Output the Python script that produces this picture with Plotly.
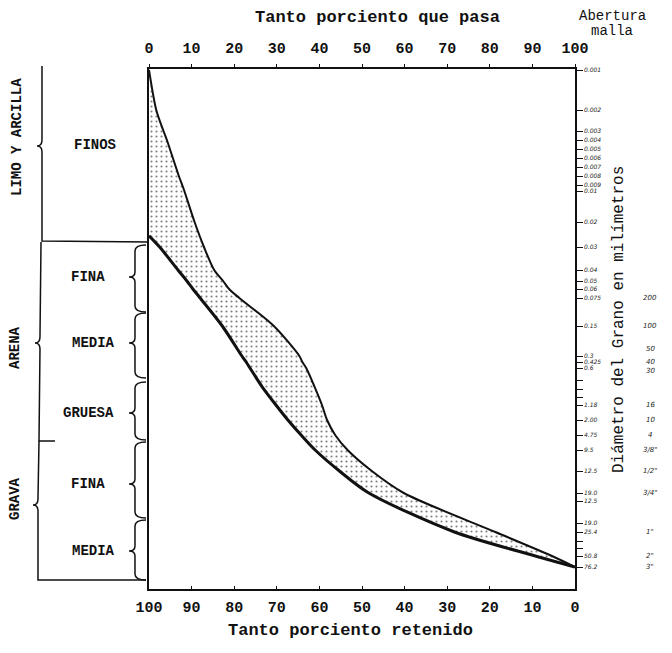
import numpy as np
import plotly.graph_objects as go

# ---------------- data ----------------
# Irregular (hand-drawn) grain-size scale of the original chart: mm -> axis position
SCALE_MM = [0.001, 0.002, 0.003, 0.004, 0.005, 0.006, 0.007, 0.008, 0.009, 0.01,
            0.02, 0.03, 0.04, 0.05, 0.06, 0.075, 0.15, 0.3, 0.425, 0.6,
            1.18, 2.0, 4.75, 9.5, 12.5, 19.0, 25.4, 50.8, 76.2]
SCALE_POS = [1, 41, 62, 71, 80, 89, 98, 107, 116, 122,
             153, 178, 201, 212, 220, 229, 257, 287, 293, 299,
             336, 351, 366, 381, 402, 424, 463, 487, 498]
SCALE_TEXT = ["0.001", "0.002", "0.003", "0.004", "0.005", "0.006", "0.007", "0.008", "0.009", "0.01",
              "0.02", "0.03", "0.04", "0.05", "0.06", "0.075", "0.15", "0.3", "0.425", "0.6",
              "1.18", "2.00", "4.75", "9.5", "12.5", "19.0", "25.4", "50.8", "76.2"]
EXTRA_TICK_POS = [432, 454]
EXTRA_TICK_TEXT = ["12.5", "19.0"]
MINOR_TICK_POS = [311, 320, 328, 472, 479]

SIEVE_MM = [0.075, 0.15, 0.3, 0.425, 0.6, 1.18, 2.0, 4.75, 9.5, 12.5, 19.0, 25.4, 50.8, 76.2]
SIEVE_TEXT = ["200", "100", "50", "40", "30", "16", "10", "4", '3/8"', '1/2"', '3/4"', '1"', '2"', '3"']

# Fine limit of the band (percent passing)
FINE_MM = [0.001, 0.002, 0.003, 0.004, 0.005, 0.006, 0.007, 0.008, 0.009, 0.01,
           0.02, 0.03, 0.04, 0.05, 0.06, 0.075, 0.15, 0.3, 0.425, 0.6, 0.85,
           1.18, 2.0, 4.75, 9.5, 12.5, 19.0, 25.4, 50.8, 76.2]
FINE_PASS = [0, 1.7, 3.4, 4.2, 4.9, 5.6, 6.3, 7.0, 7.8, 8.3,
             10.7, 12.9, 15.3, 17.4, 18.8, 21.2, 29.3, 35.3, 36.0, 36.9, 38.9,
             40.6, 41.8, 43.7, 46.6, 52.3, 59.8, 81.3, 94.6, 100]

# Coarse limit of the band (percent passing)
COARSE_MM = [0.001, 0.025, 0.03, 0.04, 0.05, 0.06, 0.075, 0.15, 0.3, 0.425, 0.6, 0.85,
             1.18, 2.0, 4.75, 9.5, 12.5, 19.0, 25.4, 50.8, 76.2]
COARSE_PASS = [0, 0, 2.5, 6.8, 8.9, 10.3, 12.0, 17.2, 21.8, 22.8, 23.7, 26.6,
               29.8, 32.6, 35.7, 39.0, 44.7, 51.6, 71.7, 90.7, 100]

TOP_TICKS = list(range(0, 101, 10))
BOTTOM_TEXT = [str(100 - v) for v in TOP_TICKS]


def pos(mm):
    return np.interp(np.log10(mm), np.log10(SCALE_MM), SCALE_POS)


# ---------------- layout geometry ----------------
W, H = 672, 653
L, R, T, B = 149, 97, 69, 64
PW, PH = W - L - R, H - T - B
MONO = "Liberation Mono, Courier New, monospace"


def px(x):
    return (x - L) / PW


def py(y):
    return 1 - (y - T) / PH


def path(cmds):
    out = []
    for c in cmds:
        op, pts = c[0], c[1:]
        coords = " ".join(f"{px(a):.4f},{py(b):.4f}" for a, b in pts)
        out.append(f"{op} {coords}")
    return " ".join(out)


fig = go.Figure()

fig.add_trace(go.Scatter(
    x=FINE_PASS, y=pos(np.array(FINE_MM)), mode="lines",
    line=dict(color="#111", width=2, shape="spline", smoothing=0.8),
    hoverinfo="skip", showlegend=False))
fig.add_trace(go.Scatter(
    x=COARSE_PASS, y=pos(np.array(COARSE_MM)), mode="lines",
    line=dict(color="rgba(0,0,0,0)", width=0, shape="spline", smoothing=0.8),
    fill="tonext", fillcolor="white",
    fillpattern=dict(shape=".", fgcolor="#000", bgcolor="white", size=5, solidity=0.14),
    hoverinfo="skip", showlegend=False))
fig.add_trace(go.Scatter(
    x=COARSE_PASS[1:], y=pos(np.array(COARSE_MM[1:])), mode="lines",
    line=dict(color="#111", width=3, shape="spline", smoothing=0.8),
    hoverinfo="skip", showlegend=False))

tickvals = list(SCALE_POS) + EXTRA_TICK_POS + MINOR_TICK_POS
ticktext = list(SCALE_TEXT) + EXTRA_TICK_TEXT + [""] * len(MINOR_TICK_POS)

axis_font = dict(family=MONO, size=15, color="#111", weight="bold")

fig.update_layout(
    width=W, height=H, autosize=False,
    margin=dict(l=L, r=R, t=T, b=B),
    paper_bgcolor="white", plot_bgcolor="white",
    xaxis=dict(range=[0, 100], side="top", showline=True, linecolor="#111", linewidth=1.5,
               showgrid=False, zeroline=False, tickvals=TOP_TICKS,
               ticks="outside", ticklen=3, tickcolor="#111", ticklabelstandoff=5,
               tickfont=axis_font),
    xaxis2=dict(range=[0, 100], overlaying="x", side="bottom", showline=True, linecolor="#111",
                linewidth=1.5, showgrid=False, zeroline=False, tickvals=TOP_TICKS,
                ticktext=BOTTOM_TEXT, ticks="inside", ticklen=3, tickcolor="#111",
                ticklabelstandoff=3, tickfont=axis_font),
    yaxis=dict(range=[520, 0], side="right", showline=True, mirror=True, linecolor="#111",
               linewidth=1.5, showgrid=False, zeroline=False, tickvals=tickvals,
               ticktext=ticktext, ticks="outside", ticklen=6, tickwidth=1.2, tickcolor="#111",
               tickfont=dict(family="DejaVu Sans", size=6, color="#222", style="italic")),
)
# dummy trace to activate xaxis2
fig.add_trace(go.Scatter(x=[None], y=[None], xaxis="x2", showlegend=False, hoverinfo="skip"))

# sieve designations (Abertura malla)
SHIFT = {"50": 7, "30": -3}
for mm, txt in zip(SIEVE_MM, SIEVE_TEXT):
    fig.add_annotation(x=px(650), xref="paper", y=float(pos(mm)), yref="y", text=txt,
                       showarrow=False, xanchor="center", yshift=SHIFT.get(txt, 0),
                       font=dict(family="DejaVu Sans", size=7, color="#222", style="italic"))


def ann(x, y, text, size=14, angle=0, weight="bold"):
    fig.add_annotation(x=px(x), y=py(y), xref="paper", yref="paper", text=text,
                       showarrow=False, xanchor="center", yanchor="middle", textangle=angle,
                       font=dict(family=MONO, size=size, color="#111", weight=weight))


ann(377, 18, "Tanto porciento que pasa", size=17)
ann(350, 630, "Tanto porciento retenido", size=17)
ann(612, 16, "Abertura", size=14, weight="normal")
ann(612, 31, "malla", size=14, weight="normal")
ann(619, 320, "Diámetro del Grano en milímetros", size=16, angle=-90, weight="normal")

ann(17, 137, "LIMO Y ARCILLA", size=14, angle=-90)
ann(15, 348, "ARENA", size=14, angle=-90)
ann(15, 499, "GRAVA", size=14, angle=-90)
ann(95, 145, "FINOS")
ann(88, 277, "FINA")
ann(93, 343, "MEDIA")
ann(88, 413, "GRUESA")
ann(88, 484, "FINA")
ann(93, 551, "MEDIA")

shapes = []
line = dict(color="#111", width=1.5)
# big braces / frame on the left
shapes.append(dict(type="path", xref="paper", yref="paper", line=line, path=path([
    ("M", (42, 66)), ("L", (42, 140)), ("Q", (42, 146), (37, 146)), ("Q", (42, 146), (42, 152)),
    ("L", (42, 241)), ("L", (149, 242))])))
shapes.append(dict(type="path", xref="paper", yref="paper", line=line, path=path([
    ("M", (41, 242)), ("L", (40, 337)), ("Q", (40, 343), (35, 343)), ("Q", (40, 343), (40, 349)),
    ("L", (39, 441)), ("L", (55, 441))])))
shapes.append(dict(type="path", xref="paper", yref="paper", line=line, path=path([
    ("M", (39, 441)), ("L", (38, 499)), ("Q", (38, 505), (33, 505)), ("Q", (38, 505), (38, 511)),
    ("L", (38, 580)), ("L", (146, 580))])))
# small braces
for y0, y1, ym in [(245, 312, 277), (313, 378, 343), (382, 440, 413), (442, 518, 484), (520, 580, 551)]:
    shapes.append(dict(type="path", xref="paper", yref="paper", line=line, path=path([
        ("M", (146, y0)), ("Q", (135, y0), (135, y0 + 6)), ("L", (135, ym - 5)),
        ("Q", (135, ym), (129, ym)), ("Q", (135, ym), (135, ym + 5)), ("L", (135, y1 - 6)),
        ("Q", (135, y1), (146, y1))])))
fig.update_layout(shapes=shapes)

fig.write_html("out.html")
